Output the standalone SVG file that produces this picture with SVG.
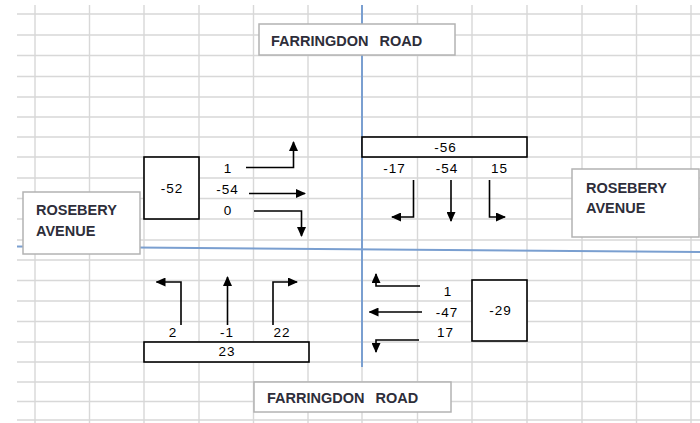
<svg xmlns="http://www.w3.org/2000/svg" width="700" height="423" viewBox="0 0 700 423">
<style>
.grid{stroke:#d8d8d8;stroke-width:1.4;fill:none}
.axis{stroke:#7a9fd0;stroke-width:2;fill:none}
.road rect{fill:#fff;stroke:#b3b3b3;stroke-width:1.5}
.road text{font-family:"Liberation Sans",Arial,sans-serif;font-size:14.5px;font-weight:bold;fill:#2e2e3a}
.box{fill:#fff;stroke:#000;stroke-width:1.6}
.num{font-family:"Liberation Sans",Arial,sans-serif;font-size:13.5px;letter-spacing:1px;fill:#000;text-anchor:middle}
.arr{stroke:#000;stroke-width:1.6;fill:none;marker-end:url(#ah)}
</style>
<defs>
<marker id="ah" markerUnits="userSpaceOnUse" markerWidth="10" markerHeight="9" viewBox="0 0 10 9" refX="9" refY="4.5" orient="auto">
<path d="M0,0 L10,4.5 L0,9 z" fill="#000"/>
</marker>
</defs>
<rect width="700" height="423" fill="#fff"/>
<g id="grid">
<path class="grid" d="M17,14H700M17,35H700M17,55.5H700M17,76.5H700M17,97H700M17,117H700M17,137H700M17,157H700M17,178H700M17,198.5H700M17,219H700M17,240H700M17,260H700M17,280.5H700M17,301H700M17,321.5H700M17,342H700M17,362H700M17,382H700M17,401.5H700M17,420H700"/>
<path class="grid" d="M35,5V423M89.5,5V423M144,5V423M199,5V423M253.5,5V423M308,5V423M362,367V423M417.5,5V423M472,5V423M527,5V423M582,5V423M636.5,5V423M691,5V423"/>
<path class="axis" d="M362,5V367"/>
<path class="axis" d="M17,246.5L700,252"/>
</g>
<g id="connectors">
<path class="arr" d="M246,167.5H293.5V142"/>
<path class="arr" d="M249,193.5H305"/>
<path class="arr" d="M254,211H301.5V236"/>
<path class="arr" d="M413.5,180V217H392"/>
<path class="arr" d="M451,180V221"/>
<path class="arr" d="M489.5,180V217H505"/>
<path class="arr" d="M181,325V282H156.5"/>
<path class="arr" d="M227.5,325V277"/>
<path class="arr" d="M273,325V282H297"/>
<path class="arr" d="M420,286H376V274"/>
<path class="arr" d="M422,312H369.5"/>
<path class="arr" d="M419,340H376V352"/>
</g>
<g id="road-top" class="road">
<rect x="259" y="24" width="196" height="31"/>
<text x="271" y="46" word-spacing="7">FARRINGDON ROAD</text>
</g>
<g id="road-bottom" class="road">
<rect x="254" y="382" width="197" height="30"/>
<text x="267" y="403" word-spacing="7">FARRINGDON ROAD</text>
</g>
<g id="road-left" class="road">
<rect x="23" y="192" width="117" height="62"/>
<text x="36" y="215">ROSEBERY</text>
<text x="36" y="235.5">AVENUE</text>
</g>
<g id="road-right" class="road">
<rect x="572" y="169" width="127" height="68"/>
<text x="586" y="193">ROSEBERY</text>
<text x="586" y="213">AVENUE</text>
</g>
<g id="west">
<rect class="box" x="144" y="157" width="55" height="62"/>
<text class="num" x="172" y="193">-52</text>
<text class="num" x="228" y="173">1</text>
<text class="num" x="227.5" y="193.5">-54</text>
<text class="num" x="228" y="214.5">0</text>
</g>
<g id="north">
<rect class="box" x="362" y="137" width="165" height="20"/>
<text class="num" x="445.5" y="151.5">-56</text>
<text class="num" x="394.5" y="173">-17</text>
<text class="num" x="447" y="173">-54</text>
<text class="num" x="499.5" y="173">15</text>
</g>
<g id="south">
<rect class="box" x="144" y="342" width="165" height="20"/>
<text class="num" x="227" y="356">23</text>
<text class="num" x="173" y="336.5">2</text>
<text class="num" x="227" y="336.5">-1</text>
<text class="num" x="282" y="336.5">22</text>
</g>
<g id="east">
<rect class="box" x="472" y="280" width="55" height="61"/>
<text class="num" x="500.5" y="314.5">-29</text>
<text class="num" x="448" y="295.5">1</text>
<text class="num" x="447" y="316.5">-47</text>
<text class="num" x="445.5" y="336.5">17</text>
</g>
</svg>
